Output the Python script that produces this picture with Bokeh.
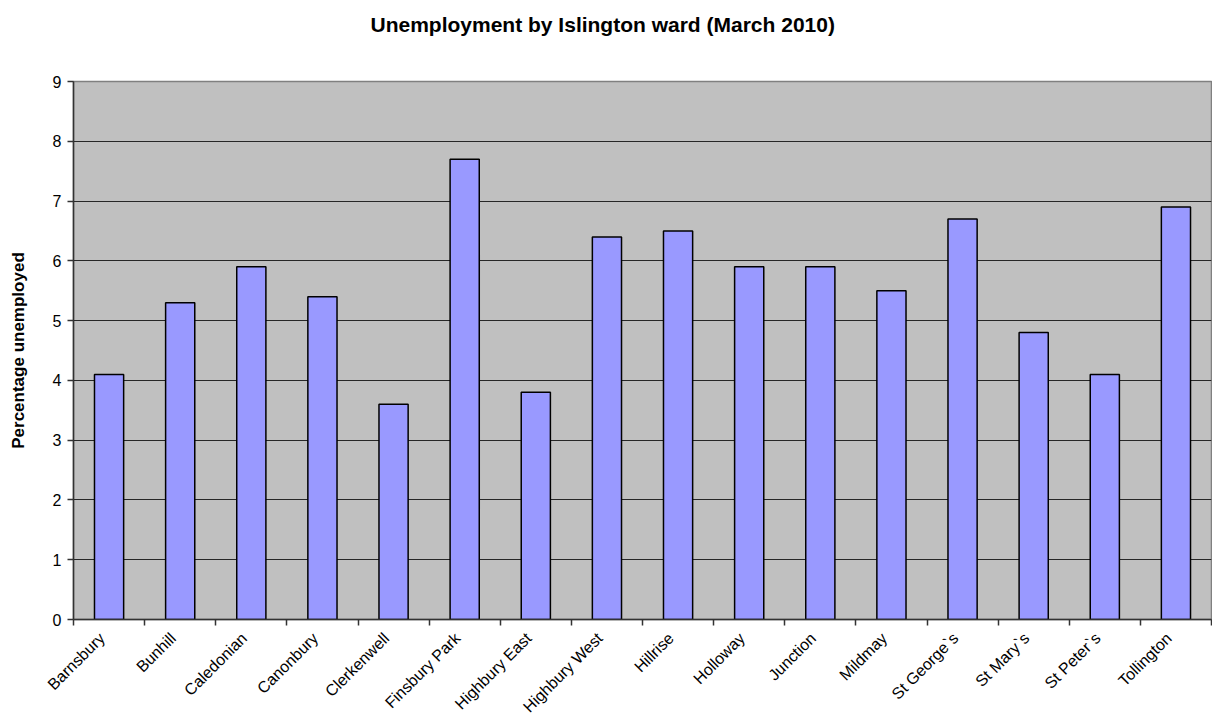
import math
from bokeh.plotting import figure
from bokeh.models import FixedTicker, Range1d, ColumnDataSource, Title
from bokeh.embed import file_html
from bokeh.resources import INLINE

wards = ["Barnsbury", "Bunhill", "Caledonian", "Canonbury", "Clerkenwell",
         "Finsbury Park", "Highbury East", "Highbury West", "Hillrise",
         "Holloway", "Junction", "Mildmay", "St George`s", "St Mary`s",
         "St Peter`s", "Tollington"]
unemployment = [4.1, 5.3, 5.9, 5.4, 3.6, 7.7, 3.8, 6.4, 6.5, 5.9, 5.9, 5.5,
                6.7, 4.8, 4.1, 6.9]
y_ticks = [0, 1, 2, 3, 4, 5, 6, 7, 8, 9]

FONT = "Liberation Sans"
n = len(wards)
centers = [i + 0.5 for i in range(n)]
label_pos = [c - 0.1 for c in centers]

src = ColumnDataSource(dict(x=centers, top=unemployment, ward=wards))

p = figure(width=1212, height=726, output_backend="svg", toolbar_location=None,
           x_range=Range1d(0, n), y_range=Range1d(0, 9),
           min_border_left=73, min_border_right=1, min_border_top=81,
           min_border_bottom=107)

p.title = Title(text="Unemployment by Islington ward (March 2010)",
                align="left", text_font=FONT, offset=297,
                text_font_size="21px", text_font_style="bold",
                text_color="#000000", standoff=0)
# empty spacer between title and plot frame
p.add_layout(Title(text=" ", text_font=FONT, text_font_size="40px",
                   standoff=0), "above")

p.background_fill_color = "#C0C0C0"
p.border_fill_color = "#FFFFFF"
p.outline_line_color = "#808080"
p.outline_line_width = 1.5

p.vbar(x="x", top="top", width=0.41, bottom=0, source=src,
       fill_color="#9999FF", line_color="#000000", line_width=1.5)

# grid
p.xgrid.visible = False
p.ygrid.ticker = FixedTicker(ticks=y_ticks)
p.ygrid.grid_line_color = "#000000"
p.ygrid.grid_line_width = 1
p.ygrid.grid_line_alpha = 0.8

# x axis
xa = p.xaxis[0]
xa.ticker = FixedTicker(ticks=label_pos, minor_ticks=list(range(n + 1)))
xa.major_label_overrides = {c: w for c, w in zip(label_pos, wards)}
xa.major_tick_out = 0
xa.major_tick_in = 0
xa.minor_tick_out = 6
xa.minor_tick_in = 0
xa.minor_tick_line_color = "#333333"
xa.minor_tick_line_width = 1.5
xa.axis_line_color = "#333333"
xa.axis_line_width = 1.5
xa.major_label_orientation = math.pi / 4
xa.major_label_text_font = FONT
xa.major_label_text_font_size = "16px"
xa.major_label_text_color = "#000000"
xa.major_label_standoff = 10

# y axis
ya = p.yaxis[0]
ya.ticker = FixedTicker(ticks=y_ticks)
ya.major_tick_out = 6
ya.major_tick_in = 0
ya.minor_tick_out = 0
ya.minor_tick_in = 0
ya.major_tick_line_color = "#333333"
ya.major_tick_line_width = 1.5
ya.axis_line_color = "#333333"
ya.axis_line_width = 1.5
ya.major_label_text_font = FONT
ya.major_label_text_font_size = "16px"
ya.major_label_text_color = "#000000"
ya.major_label_standoff = 6
ya.axis_label = "Percentage unemployed"
ya.axis_label_text_font = FONT
ya.axis_label_text_font_size = "17px"
ya.axis_label_text_font_style = "bold"
ya.axis_label_text_color = "#000000"
ya.axis_label_standoff = 22

open("out.html", "w").write(file_html(p, INLINE))
